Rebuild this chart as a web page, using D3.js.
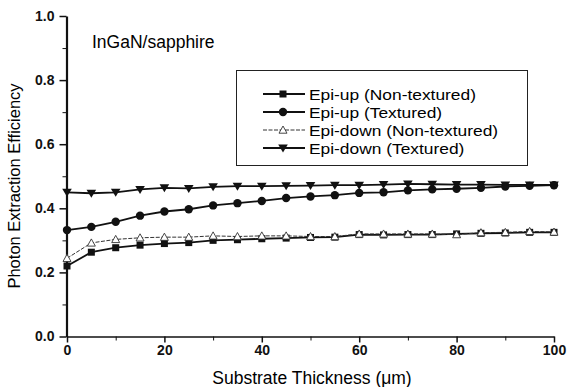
<!DOCTYPE html>
<html>
<head>
<meta charset="utf-8">
<script src="https://cdn.jsdelivr.net/npm/d3@7"></script>
<style>
  body { margin: 0; background: #fff; }
  svg { font-family: "Liberation Sans", Arial, sans-serif; }
  .tick text { font-size: 14px; font-weight: bold; fill: #111; }
  .domain { stroke: #111; }
  .tick line { stroke: #111; }
</style>
</head>
<body>
<svg id="chart" width="568" height="387"></svg>
<script>
  // substrate thickness (um)
  const thickness = [0, 5, 10, 15, 20, 25, 30, 35, 40, 45, 50, 55, 60, 65, 70, 75, 80, 85, 90, 95, 100];

  const epiUpNonTex = [0.220, 0.263, 0.277, 0.285, 0.290, 0.293, 0.300, 0.302, 0.305, 0.307, 0.309,
    0.310, 0.318, 0.317, 0.318, 0.318, 0.320, 0.322, 0.323, 0.325, 0.325];
  const epiUpTex = [0.332, 0.342, 0.358, 0.377, 0.390, 0.397, 0.409, 0.416, 0.423, 0.432, 0.437,
    0.441, 0.448, 0.450, 0.456, 0.459, 0.461, 0.464, 0.468, 0.470, 0.472];
  const epiDownNonTex = [0.244, 0.292, 0.303, 0.308, 0.310, 0.310, 0.314, 0.312, 0.314, 0.314, 0.312,
    0.312, 0.320, 0.320, 0.320, 0.320, 0.318, 0.324, 0.325, 0.328, 0.326];
  const epiDownTex = [0.450, 0.447, 0.450, 0.459, 0.464, 0.462, 0.467, 0.469, 0.469, 0.470, 0.471,
    0.472, 0.472, 0.474, 0.476, 0.475, 0.474, 0.474, 0.473, 0.473, 0.473];

  const seriesNames = ['Epi-up (Non-textured)', 'Epi-up (Textured)', 'Epi-down (Non-textured)', 'Epi-down (Textured)'];
  const seriesValues = [epiUpNonTex, epiUpTex, epiDownNonTex, epiDownTex];
  const seriesMarkers = ['square', 'circle', 'triangleUp', 'triangleDown'];

  const xTicks = [0, 20, 40, 60, 80, 100];
  const yTicks = [0.0, 0.2, 0.4, 0.6, 0.8, 1.0];

  const svg = d3.select('#chart');
  const x = d3.scaleLinear().domain([0, 100]).range([67, 554]);
  const y = d3.scaleLinear().domain([0, 1]).range([336.5, 16]);

  // minor ticks first, then major axes on top
  svg.append('g')
    .attr('transform', 'translate(0,336.5)')
    .call(d3.axisBottom(x).tickValues(d3.range(10, 100, 20)).tickSize(4).tickFormat(''))
    .call(g => g.select('.domain').remove());
  svg.append('g')
    .attr('transform', 'translate(66.5,0)')
    .call(d3.axisLeft(y).tickValues(d3.range(0.1, 1, 0.2)).tickSize(4).tickFormat(''))
    .call(g => g.select('.domain').remove());

  const xAxis = svg.append('g')
    .attr('transform', 'translate(0,336.5)')
    .call(d3.axisBottom(x).tickValues(xTicks).tickSize(6).tickSizeOuter(0).tickPadding(3).tickFormat(d3.format('d')));
  xAxis.select('.domain').attr('stroke-width', 1.5);
  xAxis.selectAll('.tick line').attr('stroke-width', 1.5);

  const yAxis = svg.append('g')
    .attr('transform', 'translate(66.5,0)')
    .call(d3.axisLeft(y).tickValues(yTicks).tickSize(7).tickSizeOuter(0).tickPadding(5).tickFormat(d3.format('.1f')));
  yAxis.select('.domain').attr('stroke-width', 2.2);
  yAxis.selectAll('.tick line').attr('stroke-width', 1.5);

  // axis titles
  svg.append('text')
    .attr('x', 312).attr('y', 384)
    .attr('text-anchor', 'middle')
    .attr('font-size', 17.5)
    .text('Substrate Thickness (\u03BCm)');
  svg.append('text')
    .attr('transform', 'translate(20,186) rotate(-90)')
    .attr('text-anchor', 'middle')
    .attr('font-size', 16.5)
    .text('Photon Extraction Efficiency');

  svg.append('text')
    .attr('x', 92).attr('y', 48)
    .attr('font-size', 17.5)
    .text('InGaN/sapphire');

  function drawMarker(g, type, cx, cy) {
    if (type === 'square') {
      g.append('rect').attr('x', cx - 3.5).attr('y', cy - 3.5).attr('width', 7).attr('height', 7)
        .attr('fill', '#111');
    } else if (type === 'circle') {
      g.append('circle').attr('cx', cx).attr('cy', cy).attr('r', 4.2).attr('fill', '#111');
    } else if (type === 'triangleDown') {
      g.append('path').attr('d', `M${cx - 4.8},${cy - 3.5}L${cx + 4.8},${cy - 3.5}L${cx},${cy + 4.5}Z`)
        .attr('fill', '#111');
    } else {
      g.append('path').attr('d', `M${cx - 4},${cy + 3.2}L${cx + 4},${cy + 3.2}L${cx},${cy - 4}Z`)
        .attr('fill', '#fff').attr('stroke', '#333').attr('stroke-width', 0.9);
    }
  }

  const line = d3.line()
    .x(d => x(d[0]))
    .y(d => y(d[1]));

  seriesValues.forEach((vals, i) => {
    const pts = d3.zip(thickness, vals);
    const thin = seriesMarkers[i] === 'triangleUp';
    svg.append('path').datum(pts)
      .attr('fill', 'none')
      .attr('stroke', thin ? '#333' : '#111')
      .attr('stroke-width', thin ? 1 : 1.8)
      .attr('stroke-dasharray', thin ? '4,1.5' : null)
      .attr('d', line);
    const g = svg.append('g');
    pts.forEach(p => drawMarker(g, seriesMarkers[i], x(p[0]), y(p[1])));
  });

  // legend
  const legend = svg.append('g');
  legend.append('rect')
    .attr('x', 236.5).attr('y', 70.5).attr('width', 291).attr('height', 95)
    .attr('fill', '#fff').attr('stroke', '#222').attr('stroke-width', 1);
  seriesNames.forEach((name, i) => {
    const ly = 94 + i * 18;
    const thin = seriesMarkers[i] === 'triangleUp';
    legend.append('line')
      .attr('x1', 263).attr('x2', 305).attr('y1', ly).attr('y2', ly)
      .attr('stroke', thin ? '#333' : '#111')
      .attr('stroke-width', thin ? 1 : 1.8)
      .attr('stroke-dasharray', thin ? '4,1.5' : null);
    drawMarker(legend, seriesMarkers[i], 283, ly);
    const t = legend.append('text')
      .attr('x', 309).attr('y', ly + 5.5)
      .attr('font-size', 15.5)
      .text(name);
    // the scanned legend lettering runs a bit wider than its height suggests
    const w = t.node().getComputedTextLength();
    t.attr('textLength', w * 1.12).attr('lengthAdjust', 'spacingAndGlyphs');
  });
</script>
</body>
</html>
